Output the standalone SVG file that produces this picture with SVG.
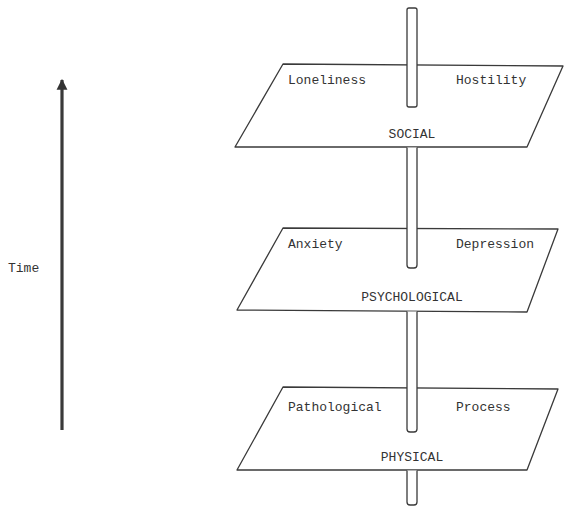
<svg xmlns="http://www.w3.org/2000/svg" width="564" height="508" viewBox="0 0 564 508">
<style>
.plane{fill:#fff;stroke:#3a3a3a;stroke-width:1.3;stroke-linejoin:round}
.pole{fill:#fff;stroke:#3a3a3a;stroke-width:1.3}
.t{font-family:"Liberation Mono","Courier New",monospace;font-size:13px;fill:#333}
.m{text-anchor:middle}
</style>
<defs>
<marker id="ah" viewBox="0 0 10 10" refX="9" refY="5" markerWidth="3.4" markerHeight="3.6" orient="auto" markerUnits="strokeWidth">
<path d="M0,0 L10,5 L0,10 z" fill="#333"/>
</marker>
</defs>
<rect width="564" height="508" fill="#fff"/>
<g id="time">
<line x1="62" y1="430" x2="62" y2="80" stroke="#3a3a3a" stroke-width="3.2" marker-end="url(#ah)"/>
<text class="t" x="8" y="272">Time</text>
</g>
<g id="social">
<polygon class="plane" points="283,64 563,66 527,147 235,147"/>
<text class="t" x="288" y="84">Loneliness</text>
<text class="t" x="456" y="84">Hostility</text>
<text class="t m" x="412" y="138">SOCIAL</text>
</g>
<g id="psychological">
<polygon class="plane" points="283,228 558,229 527,312 237,310"/>
<text class="t" x="288" y="248">Anxiety</text>
<text class="t" x="456" y="248">Depression</text>
<text class="t m" x="412" y="301">PSYCHOLOGICAL</text>
</g>
<g id="physical">
<polygon class="plane" points="283,387 558,389 527,470 237,470"/>
<text class="t" x="288" y="411">Pathological</text>
<text class="t" x="456" y="411">Process</text>
<text class="t m" x="412" y="461">PHYSICAL</text>
</g>
<g id="connectors">
<rect class="pole" x="407" y="8" width="10" height="99" rx="2"/>
<path class="pole" d="M407,147.6 L407,265 Q407,268 410,268 L414,268 Q417,268 417,265 L417,147.6"/>
<path class="pole" d="M407,311.6 L407,429 Q407,432 410,432 L414,432 Q417,432 417,429 L417,311.6"/>
<path class="pole" d="M407,470.6 L407,502 Q407,505 410,505 L414,505 Q417,505 417,502 L417,470.6"/>
</g>
</svg>
